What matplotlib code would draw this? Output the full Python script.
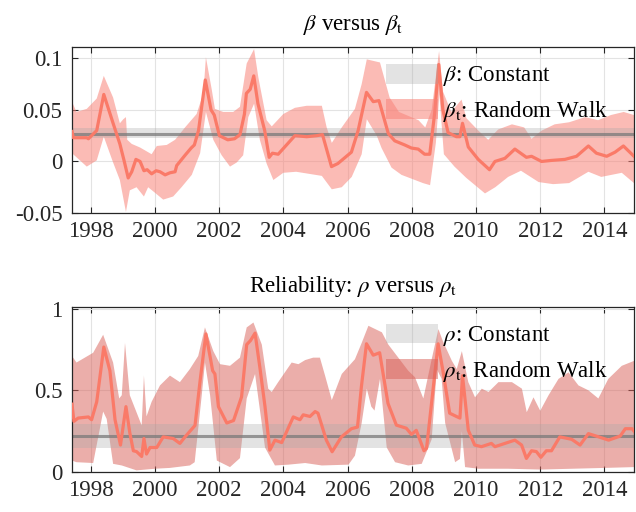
import matplotlib
matplotlib.use("Agg")
import matplotlib.pyplot as plt
import numpy as np
from matplotlib.patches import Patch

# ---- beta: time-varying estimate with its band, plus the constant estimate ----
beta_t_x = [1997.42, 1997.46, 1997.88, 1997.93, 1998.19, 1998.41, 1998.70, 1998.91,
            1999.04, 1999.17, 1999.28, 1999.41, 1999.54, 1999.66, 1999.76, 1999.90,
            2000.04, 2000.16, 2000.32, 2000.47, 2000.63, 2000.68, 2000.94, 2001.13,
            2001.23, 2001.36, 2001.57, 2001.75, 2001.85, 2002.01, 2002.27, 2002.48,
            2002.65, 2002.79, 2002.85, 2002.97, 2003.08, 2003.21, 2003.42, 2003.56,
            2003.66, 2003.84, 2004.10, 2004.36, 2004.73, 2005.04, 2005.22, 2005.50,
            2005.70, 2006.12, 2006.33, 2006.59, 2006.80, 2006.98, 2007.27, 2007.47,
            2007.78, 2007.99, 2008.20, 2008.40, 2008.56, 2008.71, 2008.84, 2008.97,
            2009.13, 2009.39, 2009.50, 2009.58, 2009.76, 2010.07, 2010.42, 2010.59,
            2010.90, 2011.21, 2011.57, 2011.73, 2012.04, 2012.35, 2012.77, 2013.13,
            2013.50, 2013.75, 2014.07, 2014.33, 2014.59, 2014.92]
beta_t = [0.029, 0.023, 0.023, 0.022, 0.030, 0.065, 0.037, 0.017,
          0.001, -0.016, -0.010, 0.002, 0.000, -0.009, -0.008, -0.012,
          -0.009, -0.010, -0.013, -0.011, -0.010, -0.004, 0.006, 0.013,
          0.016, 0.030, 0.079, 0.050, 0.045, 0.025, 0.021, 0.022,
          0.026, 0.046, 0.066, 0.070, 0.083, 0.056, 0.030, 0.004,
          0.008, 0.007, 0.016, 0.025, 0.024, 0.025, 0.026, -0.005,
          -0.002, 0.009, 0.030, 0.067, 0.058, 0.059, 0.027, 0.020,
          0.016, 0.013, 0.012, 0.007, 0.007, 0.046, 0.094, 0.050,
          0.028, 0.024, 0.024, 0.037, 0.014, 0.002, -0.008, 0.000,
          0.003, 0.012, 0.004, 0.005, 0.000, 0.001, 0.002, 0.005,
          0.015, 0.008, 0.005, 0.009, 0.015, 0.005]

beta_hi_x = [1997.42, 1997.56, 1997.88, 1998.19, 1998.41, 1998.70, 1998.91, 1999.02,
             1999.10, 1999.14, 1999.28, 1999.54, 1999.90, 2000.06, 2000.37, 2000.63,
             2000.94, 2001.30, 2001.51, 2001.59, 2001.77, 2001.87, 2002.13, 2002.44,
             2002.65, 2002.86, 2003.09, 2003.22, 2003.48, 2003.64, 2004.00, 2004.36,
             2004.73, 2005.20, 2005.35, 2005.51, 2005.82, 2006.23, 2006.44, 2006.60,
             2007.01, 2007.31, 2007.60, 2008.21, 2008.42, 2008.62, 2008.85, 2008.97,
             2009.23, 2009.55, 2009.70, 2010.07, 2010.38, 2010.69, 2011.12, 2011.50,
             2011.73, 2012.05, 2012.45, 2012.90, 2013.40, 2013.80, 2014.20, 2014.60,
             2014.92]
beta_hi = [0.058, 0.048, 0.051, 0.061, 0.083, 0.062, 0.037, 0.041,
           0.043, 0.021, 0.017, 0.0135, 0.007, 0.015, 0.016, 0.021,
           0.033, 0.046, 0.066, 0.101, 0.070, 0.051, 0.048, 0.048,
           0.053, 0.095, 0.109, 0.082, 0.040, 0.034, 0.046, 0.052,
           0.054, 0.054, 0.033, 0.018, 0.033, 0.051, 0.075, 0.099,
           0.096, 0.062, 0.048, 0.040, 0.033, 0.050, 0.107, 0.068,
           0.048, 0.060, 0.042, 0.030, 0.021, 0.031, 0.036, 0.033,
           0.022, 0.030, 0.036, 0.038, 0.043, 0.040, 0.045, 0.048,
           0.045]

beta_lo_x = [1997.42, 1997.88, 1998.19, 1998.41, 1998.70, 1998.91, 1999.10, 1999.22,
             1999.43, 1999.66, 1999.79, 1999.95, 2000.26, 2000.57, 2000.83, 2001.15,
             2001.41, 2001.59, 2001.82, 2002.08, 2002.34, 2002.55, 2002.75, 2002.91,
             2003.09, 2003.27, 2003.48, 2003.69, 2004.00, 2004.40, 2005.20, 2005.51,
             2005.82, 2006.13, 2006.44, 2006.60, 2006.91, 2007.06, 2007.37, 2007.68,
             2008.10, 2008.35, 2008.57, 2008.75, 2008.86, 2009.00, 2009.33, 2009.70,
             2010.28, 2010.60, 2011.00, 2011.40, 2011.95, 2012.40, 2012.90, 2013.50,
             2013.90, 2014.54, 2014.92]
beta_lo = [0.008, -0.005, 0.001, 0.024, -0.001, -0.018, -0.049, -0.028,
           -0.025, -0.034, -0.025, -0.029, -0.037, -0.034, -0.025, -0.013,
           0.008, 0.048, 0.021, 0.006, -0.005, -0.001, 0.006, 0.043,
           0.056, 0.021, -0.002, -0.018, -0.011, -0.010, -0.014, -0.027,
           -0.025, -0.015, 0.007, 0.041, 0.025, 0.013, -0.006, -0.013,
           -0.018, -0.021, -0.023, 0.018, 0.065, 0.007, -0.005, -0.016,
           -0.031, -0.025, -0.015, -0.009, -0.020, -0.022, -0.021, -0.010,
           -0.015, -0.011, -0.021]

beta_const = 0.027
beta_const_band = (0.0225, 0.032)

# ---- reliability rho ----
rho_t_x = [1997.42, 1997.48, 1997.61, 1997.93, 1998.03, 1998.19, 1998.41, 1998.60,
           1998.76, 1998.93, 1999.10, 1999.22, 1999.33, 1999.43, 1999.59, 1999.66,
           1999.74, 1999.85, 2000.06, 2000.26, 2000.57, 2000.78, 2000.94, 2001.25,
           2001.41, 2001.59, 2001.80, 2001.87, 2001.98, 2002.24, 2002.45, 2002.70,
           2002.86, 2002.98, 2003.12, 2003.27, 2003.43, 2003.58, 2003.74, 2003.95,
           2004.31, 2004.52, 2004.62, 2004.83, 2004.99, 2005.08, 2005.34, 2005.52,
           2005.81, 2006.12, 2006.31, 2006.43, 2006.59, 2006.80, 2007.00, 2007.26,
           2007.52, 2007.83, 2007.99, 2008.14, 2008.38, 2008.46, 2008.66, 2008.82,
           2008.97, 2009.18, 2009.39, 2009.50, 2009.58, 2009.76, 2009.96, 2010.17,
           2010.48, 2010.59, 2010.90, 2011.21, 2011.42, 2011.57, 2011.73, 2011.88,
           2012.02, 2012.19, 2012.35, 2012.61, 2012.98, 2013.24, 2013.50, 2013.82,
           2014.13, 2014.49, 2014.65, 2014.86, 2014.92]
rho_t = [0.415, 0.31, 0.33, 0.337, 0.32, 0.43, 0.765, 0.62,
         0.32, 0.165, 0.40, 0.24, 0.13, 0.125, 0.095, 0.205,
         0.11, 0.15, 0.15, 0.215, 0.205, 0.175, 0.215, 0.285,
         0.56, 0.845, 0.62, 0.60, 0.40, 0.30, 0.315, 0.46,
         0.78, 0.805, 0.85, 0.64, 0.40, 0.134, 0.195, 0.18,
         0.337, 0.32, 0.35, 0.34, 0.37, 0.36, 0.195, 0.124,
         0.215, 0.265, 0.275, 0.52, 0.785, 0.715, 0.73, 0.42,
         0.287, 0.268, 0.23, 0.255, 0.13, 0.145, 0.50, 0.785,
         0.62, 0.36, 0.34, 0.33, 0.59, 0.256, 0.165, 0.155,
         0.175, 0.155, 0.175, 0.195, 0.165, 0.083, 0.13, 0.125,
         0.09, 0.13, 0.13, 0.215, 0.20, 0.165, 0.235, 0.215,
         0.195, 0.22, 0.265, 0.265, 0.25]

rho_hi_x = [1997.42, 1997.56, 1998.08, 1998.39, 1998.70, 1998.89, 1998.97, 1999.07,
            1999.22, 1999.43, 1999.59, 1999.66, 1999.74, 1999.90, 2000.16, 2000.47,
            2000.78, 2001.09, 2001.35, 2001.56, 2001.82, 2002.03, 2002.34, 2002.65,
            2002.86, 2003.07, 2003.33, 2003.53, 2003.64, 2003.84, 2004.05, 2004.26,
            2004.47, 2004.68, 2004.93, 2005.14, 2005.30, 2005.51, 2005.82, 2006.23,
            2006.44, 2006.65, 2007.07, 2007.27, 2007.58, 2007.89, 2008.10, 2008.36,
            2008.62, 2008.83, 2008.97, 2009.25, 2009.40, 2009.56, 2009.76, 2009.97,
            2010.18, 2010.39, 2010.70, 2011.12, 2011.43, 2011.58, 2011.79, 2012.00,
            2012.26, 2012.57, 2012.88, 2013.19, 2013.50, 2013.81, 2014.12, 2014.54,
            2014.92]
rho_hi = [0.71, 0.67, 0.73, 0.84, 0.67, 0.45, 0.47, 0.79,
          0.47, 0.365, 0.285, 0.59, 0.34, 0.43, 0.53, 0.59,
          0.55, 0.63, 0.71, 0.885, 0.74, 0.66, 0.65, 0.70,
          0.885, 0.915, 0.78, 0.51, 0.49, 0.55, 0.61, 0.67,
          0.66, 0.685, 0.70, 0.70, 0.59, 0.44, 0.60, 0.69,
          0.79, 0.895, 0.855, 0.78, 0.70, 0.62, 0.58, 0.45,
          0.69, 0.875, 0.80, 0.68, 0.63, 0.74, 0.55, 0.457,
          0.51, 0.49, 0.55, 0.55, 0.51, 0.366, 0.457, 0.375,
          0.47, 0.57, 0.61, 0.53, 0.50, 0.45, 0.57, 0.65,
          0.68]

rho_lo_x = [1997.42, 1997.56, 1998.08, 1998.39, 1998.50, 1998.70, 1998.97, 1999.43,
            2000.00, 2000.47, 2001.09, 2001.24, 2001.46, 2001.56, 2001.72, 2001.93,
            2002.34, 2002.65, 2002.86, 2003.12, 2003.43, 2003.74, 2004.16, 2004.68,
            2005.20, 2006.03, 2006.23, 2006.44, 2006.60, 2006.74, 2006.84, 2007.01,
            2007.22, 2007.48, 2007.89, 2008.31, 2008.62, 2008.78, 2008.93, 2009.04,
            2009.35, 2009.50, 2009.56, 2009.66, 2010.08, 2011.00, 2012.00, 2013.00,
            2014.00, 2014.92]
rho_lo = [0.07, 0.06, 0.055, 0.37, 0.325, 0.05, 0.04, 0.01,
          0.02, 0.025, 0.04, 0.06, 0.47, 0.67, 0.47, 0.07,
          0.03, 0.085, 0.45, 0.60, 0.15, 0.04, 0.045, 0.055,
          0.04, 0.045, 0.10, 0.30, 0.51, 0.40, 0.376, 0.57,
          0.15, 0.06, 0.04, 0.05, 0.20, 0.63, 0.57, 0.30,
          0.06, 0.08, 0.25, 0.03, 0.02, 0.02, 0.015, 0.02,
          0.025, 0.03]

rho_const = 0.22
rho_const_band = (0.146, 0.295)

year_ticks = [1998, 2000, 2002, 2004, 2006, 2008, 2010, 2012, 2014]
beta_ticks = [-0.05, 0, 0.05, 0.1]
beta_tick_labels = ["-0.05", "0", "0.05", "0.1"]
rho_ticks = [0, 0.5, 1]
rho_tick_labels = ["0", "0.5", "1"]

plt.rcParams["font.family"] = ["Liberation Serif", "DejaVu Serif"]
plt.rcParams["mathtext.fontset"] = "stix"
plt.rcParams["axes.unicode_minus"] = False

FS = 16.5
AX_COLOR = "#262626"
LINE_RED = "#FA7A68"
GRAY_BAND = "#A8A8A8"


def style_axes(ax, ylim, yticks, ylabels):
    ax.set_xlim(1997.42, 2014.92)
    ax.set_ylim(*ylim)
    ax.set_xticks(year_ticks)
    ax.set_xticklabels([str(y) for y in year_ticks])
    ax.set_yticks(yticks)
    ax.set_yticklabels(ylabels)
    ax.tick_params(direction="in", length=4, width=0.8, colors=AX_COLOR,
                   labelsize=FS, top=True, right=True)
    ax.tick_params(axis="x", pad=6)
    ax.tick_params(axis="y", pad=7)
    ax.grid(True, color="#e3e3e3", lw=0.8)
    ax.set_axisbelow(True)
    for s in ax.spines.values():
        s.set_color(AX_COLOR)
        s.set_linewidth(0.9)


def draw_panel(ax, line_x, line_y, hi_x, hi, lo_x, lo, const, band, band_color, band_alpha):
    ax.fill(np.r_[hi_x, lo_x[::-1]], np.r_[hi, lo[::-1]],
            color=band_color, alpha=band_alpha, lw=0, zorder=1.5)
    ax.axhspan(band[0], band[1], color=GRAY_BAND, alpha=0.32, lw=0, zorder=2)
    ax.axhline(const, color="#7a7a7a", alpha=0.75, lw=2.2, zorder=2.5)
    ax.plot(line_x, line_y, color=LINE_RED, lw=2.3, zorder=3,
            solid_joinstyle="round")


fig = plt.figure(figsize=(6.36, 5.12), dpi=100)
ax1 = fig.add_axes([72 / 636, 1 - 213 / 512, 562 / 636, 166 / 512])
ax2 = fig.add_axes([72 / 636, 1 - 472 / 512, 562 / 636, 165 / 512])

draw_panel(ax1, beta_t_x, beta_t, np.array(beta_hi_x), np.array(beta_hi),
           np.array(beta_lo_x), np.array(beta_lo), beta_const, beta_const_band,
           "#F88379", 0.55)
draw_panel(ax2, rho_t_x, rho_t, np.array(rho_hi_x), np.array(rho_hi),
           np.array(rho_lo_x), np.array(rho_lo), rho_const, rho_const_band,
           "#D9645C", 0.52)

style_axes(ax1, (-0.05, 0.111), beta_ticks, beta_tick_labels)
style_axes(ax2, (0, 1.01), rho_ticks, rho_tick_labels)

ax1.set_title(r"$\beta$ versus $\beta_{\mathrm{t}}$", fontsize=FS, color="black", pad=12)
ax2.set_title(r"Reliability: $\rho$ versus $\rho_{\mathrm{t}}$", fontsize=FS,
              color="black", pad=11)

for ax, sym, red, ralpha in ((ax1, r"\beta", "#F88379", 0.55),
                             (ax2, r"\rho", "#D9645C", 0.52)):
    handles = [Patch(facecolor=GRAY_BAND, alpha=0.32, lw=0),
               Patch(facecolor=red, alpha=ralpha, lw=0)]
    labels = [rf"${sym}$: Constant", rf"${sym}_{{\mathrm{{t}}}}$: Random Walk"]
    ax.legend(handles, labels, loc="upper left", bbox_to_anchor=(0.5587, 0.90),
              frameon=False, fontsize=FS, borderpad=0, borderaxespad=0,
              handlelength=2.27, handleheight=0.96, handletextpad=0.22,
              labelspacing=0.45)

fig.savefig("out.png", dpi=100, facecolor="white")
